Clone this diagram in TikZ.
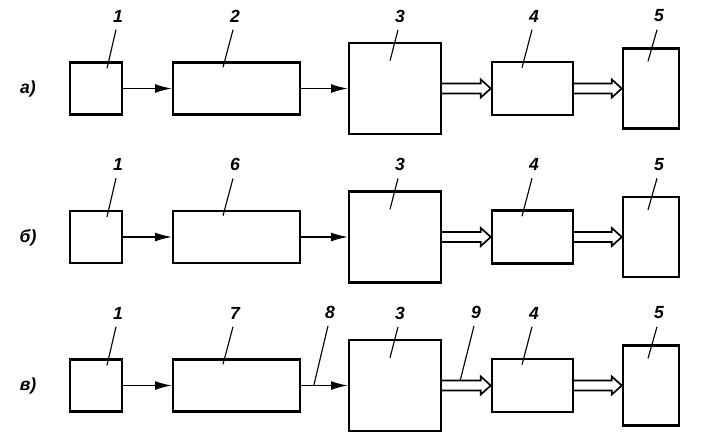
\documentclass[tikz,border=0pt]{standalone}
\usepackage{fontspec}
\setmainfont{Liberation Sans}
\usetikzlibrary{arrows.meta,positioning,calc}

\tikzset{
  block/.style={draw, line width=1.7pt, inner sep=0pt},
  num/.style={font=\fontsize{12.5}{14}\selectfont\bfseries\itshape, inner sep=1pt},
  leader/.style={line width=0.8pt},
  flow/.style={line width=0.8pt, -{Latex[length=4.2mm,width=2.2mm]}},
  wide/.style={line width=1.2pt, line join=miter, fill=white},
}

% hollow double arrow between two blocks
\newcommand{\widearrow}[2]{%
  \draw[wide] ($(#1.east)+(0,-5)$) -- ($(#2.west)+(-10,-5)$) -- ($(#2.west)+(-10,-9)$)
    -- (#2.west) -- ($(#2.west)+(-10,9)$) -- ($(#2.west)+(-10,5)$) -- ($(#1.east)+(0,5)$);}

\begin{document}
\begin{tikzpicture}[x=0.25mm, y=-0.25mm]
    \useasboundingbox (0,0) rectangle (710,437);

    \foreach \r/\dy/\mid/\tag in {a/0/2/а), b/148.5/6/б), c/297/7/в)} {
      \begin{scope}[shift={(0,\dy)}]
        % blocks
        \node[block, minimum width=13mm, minimum height=13mm] (\r1) at (96,88.5) {};
        \node[block, minimum width=31.75mm, minimum height=13mm] (\r2) at (236.5,88.5) {};
        \node[block, minimum width=23mm, minimum height=22.75mm] (\r3) at (395,88.5) {};
        \node[block, minimum width=20.25mm, minimum height=13.25mm] (\r4) at (532.5,88.5) {};
        \node[block, minimum width=14mm, minimum height=20mm] (\r5) at (651,88.5) {};
        \node[num] (t\r) at (28,89) {\tag};

        % connections
        \draw[flow] (\r1) -- (\r2);
        \draw[flow] (\r2) -- (\r3);
        \widearrow{\r3}{\r4}
        \widearrow{\r4}{\r5}

        % numbers and leaders
        \node[num] (l\r1) at (118,16) {1};
        \node[num] (l\r2) at (235,16) {\mid};
        \node[num] (l\r3) at (400,16) {3};
        \node[num] (l\r4) at (534,16) {4};
        \node[num] (l\r5) at (659,16) {5};
        \draw[leader] (l\r1.south) ++(-2,6) -- ($(\r1.north)+(11,7)$);
        \draw[leader] (l\r2.south) ++(-2,6) -- ($(\r2.north)+(-13.5,6)$);
        \draw[leader] (l\r3.south) ++(-2,6) -- ($(\r3.north)+(-5,19)$);
        \draw[leader] (l\r4.south) ++(-2,6) -- ($(\r4.north)+(-10.5,7)$);
        \draw[leader] (l\r5.south) ++(-2,6) -- ($(\r5.north)+(-3,14)$);
      \end{scope}
    }

    % extra marks of row c
    \coordinate (c8) at ($(c2.east)!0.27!(c3.west)$);
    \coordinate (c9) at ($(c3.east)!0.37!(c4.west)+(0,-5)$);
    \node[num] (lc8) at (330,312) {8};
    \node[num] (lc9) at (476,312) {9};
    \draw[leader] (lc8.south) ++(-2,6) -- (c8);
    \draw[leader] (lc9.south) ++(-2,6) -- (c9);
\end{tikzpicture}
\end{document}
